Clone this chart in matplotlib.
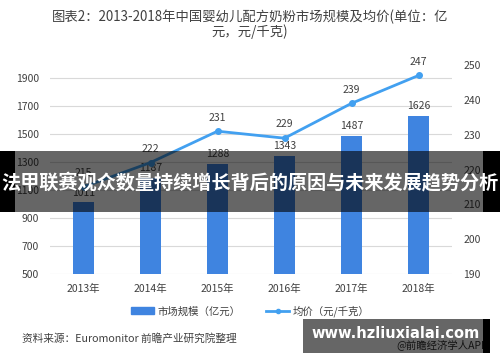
import matplotlib.pyplot as plt
from matplotlib.patches import Rectangle
from matplotlib.lines import Line2D

plt.rcParams['font.family'] = ['Noto Sans CJK SC', 'DejaVu Sans']

years = ['2013年', '2014年', '2015年', '2016年', '2017年', '2018年']
market = [1011, 1187, 1288, 1343, 1487, 1626]
price = [215, 222, 231, 229, 239, 247]
left_ticks = [500, 700, 900, 1100, 1300, 1500, 1700, 1900]
right_ticks = [190, 200, 210, 220, 230, 240, 250]

W, H = 500, 362
bar_c = '#3f84e0'
line_c = '#42a0f0'
txt_c = '#404040'

fig = plt.figure(figsize=(5, 3.62), dpi=100)

def fx(px):
    return px / W

def fy(py):
    return 1 - py / H

ax = fig.add_axes([fx(50), fy(274), fx(452) - fx(50), fy(64) - fy(274)])
x = range(len(years))
ax.bar(x, market, width=0.32, color=bar_c, zorder=2)
ax.set_ylim(500, 2000)
ax.set_xlim(-0.5, 5.5)
ax.set_yticks(left_ticks)
ax.yaxis.grid(True, color='#d9d9d9', lw=0.8, zorder=0)
for s in ax.spines.values():
    s.set_visible(False)
ax.tick_params(length=0, labelsize=7.5, colors=txt_c, pad=8)
ax.set_xticks(list(x))
ax.set_xticklabels(years)
ax.tick_params(axis='x', pad=7)
for i, v in enumerate(market):
    ax.text(i, v + 35, str(v), ha='center', va='bottom', fontsize=7.5, color=txt_c)

ax2 = ax.twinx()
ax2.plot(x, price, color=line_c, lw=2, marker='o', ms=4, zorder=3)
ax2.set_ylim(190, 250.3)
ax2.set_yticks(right_ticks)
for s in ax2.spines.values():
    s.set_visible(False)
ax2.tick_params(length=0, labelsize=7.5, colors=txt_c, pad=8)
for i, v in enumerate(price):
    ax2.text(i, v + 2.5, str(v), ha='center', va='bottom', fontsize=7.5, color=txt_c)

fig.text(0.5, fy(17), '图表2：2013-2018年中国婴幼儿配方奶粉市场规模及均价(单位：亿',
         ha='center', va='center', fontsize=9.6, color='#404040')
fig.text(0.5, fy(32), '元，元/千克)', ha='center', va='center', fontsize=9.6, color='#404040')

handles = [Rectangle((0, 0), 1, 1, color=bar_c),
           Line2D([0], [0], color=line_c, lw=2, marker='o', ms=3)]
fig.legend(handles, ['市场规模（亿元）', '均价（元/千克）'], loc='center',
           bbox_to_anchor=(0.5, fy(311)), ncol=2, frameon=False, fontsize=7.5,
           handlelength=2.2, columnspacing=2.5, handletextpad=0.3, labelcolor=txt_c)

fig.text(fx(22), fy(338), '资料来源：Euromonitor 前瞻产业研究院整理', ha='left',
         va='center', fontsize=7.7, color='#404040')

# overlay banner
fig.add_artist(Rectangle((0, fy(212)), 1, fy(151) - fy(212), transform=fig.transFigure,
                         color='black', alpha=0.6, lw=0, zorder=10))
fig.add_artist(Rectangle((0, fy(212)), fx(15), fy(151) - fy(212), transform=fig.transFigure,
                         color='black', lw=0, zorder=11))
fig.add_artist(Rectangle((fx(483), fy(212)), 1 - fx(483), fy(151) - fy(212),
                         transform=fig.transFigure, color='black', lw=0, zorder=11))
fig.text(0.5, fy(183), '法甲联赛观众数量持续增长背后的原因与未来发展趋势分析', ha='center',
         va='center', fontsize=13.8, color='white', fontweight='bold', zorder=12)

# watermark box
fig.text(fx(488), fy(345), '@前瞻经济学人APP', ha='right', va='center', fontsize=7.5,
         color='#303030', zorder=9)
fig.add_artist(Rectangle((fx(303), fy(353)), fx(483) - fx(303), fy(319) - fy(353),
                         transform=fig.transFigure, color='black', alpha=0.6, lw=0, zorder=10))
fig.add_artist(Rectangle((fx(483), fy(353)), fx(490) - fx(483), fy(319) - fy(353),
                         transform=fig.transFigure, color='black', lw=0, zorder=10))
fig.text(fx(396), fy(333), 'www.hzliuxialai.com', ha='center', va='center', fontsize=10.5,
         color='white', fontweight='bold', family='DejaVu Sans', zorder=12)

fig.savefig('out.png', dpi=100)
